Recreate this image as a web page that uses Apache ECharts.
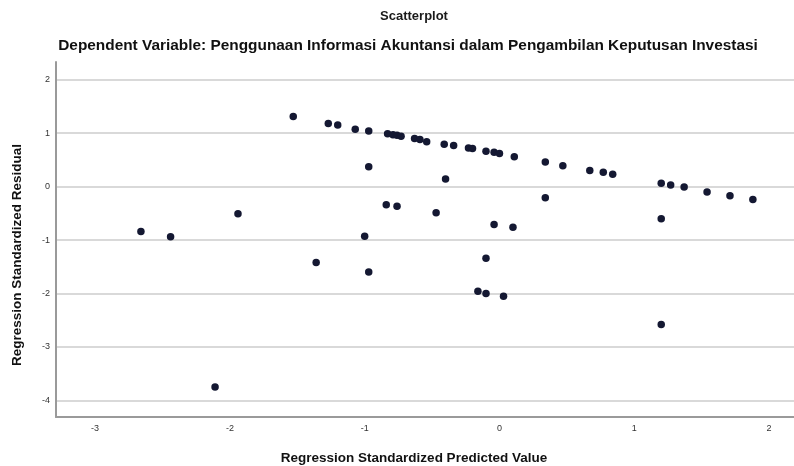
<!DOCTYPE html>
<html>
<head>
<meta charset="utf-8">
<script src="https://cdn.jsdelivr.net/npm/echarts@6/dist/echarts.min.js"></script>
<style>html,body{margin:0;padding:0;background:#fff;}#c{width:794px;height:466px;}</style>
</head>
<body>
<div id="c"></div>
<script>
const titleText = 'Scatterplot';
const subtitleText = 'Dependent Variable: Penggunaan Informasi Akuntansi dalam Pengambilan Keputusan Investasi';
const xAxisTitle = 'Regression Standardized Predicted Value';
const yAxisTitle = 'Regression Standardized Residual';
const xTicks = [-3, -2, -1, 0, 1, 2];
const yTicks = [-4, -3, -2, -1, 0, 1, 2];
const predicted = [
  -1.53, -1.27, -1.20, -1.07, -0.97, -0.83, -0.79, -0.76, -0.73, -0.63, -0.59, -0.54,
  -0.41, -0.34, -0.23, -0.20, -0.10, -0.04, 0.00, 0.11, 0.34, 0.47, 0.67, 0.77, 0.84,
  1.20, 1.27, 1.37, 1.54, 1.71, 1.88,
  -0.97, -0.40, -0.84, -0.76, -0.47, 0.34, 0.10, 1.20, -2.66, -2.44, -1.94, -1.36,
  -1.00, -0.97, -0.04, -0.10, -0.16, -0.10, 0.03, -2.11, 1.20
];
const residual = [
  1.31, 1.18, 1.15, 1.07, 1.04, 0.99, 0.97, 0.96, 0.94, 0.90, 0.88, 0.84,
  0.79, 0.77, 0.72, 0.71, 0.66, 0.64, 0.62, 0.56, 0.46, 0.39, 0.30, 0.27, 0.23,
  0.06, 0.03, -0.01, -0.10, -0.17, -0.24,
  0.37, 0.14, -0.34, -0.37, -0.49, -0.21, -0.76, -0.60, -0.84, -0.94, -0.51, -1.42,
  -0.93, -1.60, -0.71, -1.34, -1.96, -2.00, -2.05, -3.75, -2.58
];

const points = predicted.map((x, i) => [x, residual[i]]);
const chart = echarts.init(document.getElementById('c'), null, {renderer: 'canvas'});
const font = '"Liberation Sans", Arial, sans-serif';
chart.setOption({
  backgroundColor: '#ffffff',
  animation: false,
  title: [
    {text: titleText, left: 409, top: 5, textAlign: 'center',
     textStyle: {fontFamily: font, fontSize: 13, fontWeight: 'bold', color: '#1a1a1a'}},
    {text: subtitleText, left: 403, top: 33, textAlign: 'center',
     textStyle: {fontFamily: font, fontSize: 15.4, fontWeight: 'bold', color: '#111'}}
  ],
  grid: {left: 56, right: 0, top: 62, bottom: 49, containLabel: false},
  xAxis: {
    type: 'value', min: -3.29, max: 2.185,
    axisLine: {show: true, onZero: false, lineStyle: {color: '#9a9a9a', width: 2}},
    axisTick: {show: false, customValues: xTicks},
    axisLabel: {customValues: xTicks, fontFamily: font, fontSize: 9, color: '#333', margin: 7},
    splitLine: {show: false}
  },
  yAxis: {
    type: 'value', min: -4.31, max: 2.33,
    axisLine: {show: true, onZero: false, lineStyle: {color: '#9a9a9a', width: 2}},
    axisTick: {show: false, customValues: yTicks},
    axisLabel: {customValues: yTicks, fontFamily: font, fontSize: 9, color: '#333', margin: 6},
    splitLine: {show: true, lineStyle: {color: '#d9d9d9', width: 2}}
  },
  graphic: [
    {type: 'text', x: 414, y: 458, style: {text: xAxisTitle, font: 'bold 13.5px "Liberation Sans", Arial, sans-serif', fill: '#111', align: 'center', verticalAlign: 'middle'}},
    {type: 'text', x: 17, y: 255, rotation: Math.PI / 2, style: {text: yAxisTitle, font: 'bold 13.5px "Liberation Sans", Arial, sans-serif', fill: '#111', align: 'center', verticalAlign: 'middle'}}
  ],
  series: [{
    type: 'scatter', data: points, symbol: 'circle', symbolSize: 7.5,
    itemStyle: {color: '#141832', opacity: 1}
  }]
});
</script>
</body>
</html>
